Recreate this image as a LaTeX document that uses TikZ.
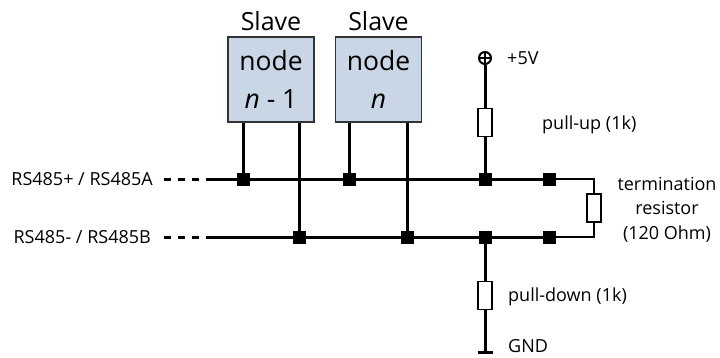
\documentclass[tikz,border=0pt]{standalone}
\usepackage{fontspec}
\setmainfont{Open Sans}
\begin{document}
\begin{tikzpicture}[x=1pt,y=-1pt,
  bus/.style={line width=3pt},
  thinwire/.style={line width=1.6pt},
  slavebox/.style={draw=black!80,line width=1.8pt,fill=boxblue,minimum width=86pt,minimum height=85pt,inner sep=0pt,align=center,font=\fontsize{26.5}{38}\selectfont},
  jdot/.style={fill=black,minimum size=13pt,inner sep=0pt,draw=none},
  res/.style={draw=black,line width=1.8pt,fill=white,minimum width=14pt,minimum height=28pt,inner sep=0pt},
  lbl/.style={font=\fontsize{18}{21}\selectfont,inner sep=0pt},
  slavelbl/.style={font=\fontsize{25}{28}\selectfont,inner sep=0pt}
]
\definecolor{boxblue}{HTML}{C9D6E6}
\useasboundingbox (0,0) rectangle (720,357);

% slave boxes
\node[slavebox] (box1) at (271,79.5) {node\\\textit{n} - 1};
\node[slavebox] (box2) at (378.5,79.5) {node\\\textit{n}};
\node[slavelbl] (s1) at (271,21) {Slave};
\node[slavelbl] (s2) at (378.5,21) {Slave};

% junctions
\node[jdot] (j1) at (243,179) {};
\node[jdot] (j2) at (299,237) {};
\node[jdot] (j3) at (349,179) {};
\node[jdot] (j4) at (407,237) {};
\node[jdot] (j5) at (485,179) {};
\node[jdot] (j6) at (549,179) {};
\node[jdot] (j7) at (485,237) {};
\node[jdot] (j8) at (549,237) {};

% bus ends
\coordinate (a0) at (164,179);
\coordinate (a1) at (207,179);
\coordinate (b0) at (164,237);
\coordinate (b1) at (207,237);

\draw[bus,dash pattern=on 7pt off 7pt] (a0) -- (a1);
\draw[bus,dash pattern=on 7pt off 7pt] (b0) -- (b1);
\draw[bus] (a1) -- (j6.center);
\draw[bus] (b1) -- (j8.center);

% leads
\draw[bus] (box1.south -| j1) -- (j1.center);
\draw[bus] (box1.south -| j2) -- (j2.center);
\draw[bus] (box2.south -| j3) -- (j3.center);
\draw[bus] (box2.south -| j4) -- (j4.center);

% pull-up
\node[draw=black,line width=2pt,circle,minimum size=12pt,inner sep=0pt] (vcc) at (485,58) {};
\draw[line width=2pt] (vcc.north) -- (vcc.south) (vcc.west) -- (vcc.east);
\node[res] (rup) at (485,122.5) {};
\draw[bus] (vcc.south) -- (rup.north);
\draw[bus] (rup.south) -- (j5.center);

% pull-down
\node[res] (rdn) at (485,295.5) {};
\coordinate (gnd) at (485,352);
\draw[bus] (j7.center) -- (rdn.north);
\draw[bus] (rdn.south) -- (gnd);
\draw[line width=3pt] ([xshift=-7.5pt]gnd) -- ([xshift=7.5pt]gnd);

% termination
\node[res] (rt) at (594,208) {};
\coordinate (t1) at (594,179);
\coordinate (t2) at (594,237);
\draw[thinwire] (j6.center) -- (t1) -- (rt.north);
\draw[thinwire] (rt.south) -- (t2) -- (j8.center);
\foreach \n in {j1,j2,j3,j4,j5,j6,j7,j8} \node[jdot] at (\n) {};

% labels
\node[lbl,anchor=east] (la) at (153,179) {RS485+ / RS485A};
\node[lbl,anchor=east] (lb) at (151,237) {RS485- / RS485B};
\node[lbl,anchor=west] (l5v) at (507,58) {+5V};
\node[lbl,anchor=west] (lup) at (542,125) {pull-up (1k)};
\node[lbl,anchor=west] (ldn) at (508,297) {pull-down (1k)};
\node[lbl,anchor=base west] (lgnd) at (508,352) {GND};
\node[lbl,align=center,font=\fontsize{18}{24.5}\selectfont] (lt) at (667,209.5) {termination\\resistor\\(120 Ohm)};
\end{tikzpicture}
\end{document}
